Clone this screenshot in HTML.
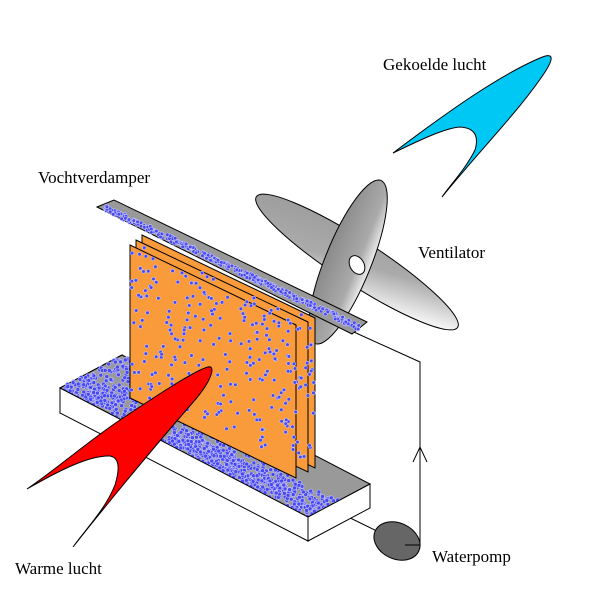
<!DOCTYPE html>
<html><head><meta charset="utf-8"><style>
html,body{margin:0;padding:0;background:#fff;width:600px;height:600px;overflow:hidden}
svg text{font-family:"Liberation Serif",serif;font-size:17px;fill:#000}
</style></head><body>
<svg id="s" width="600" height="600" viewBox="0 0 600 600" xmlns="http://www.w3.org/2000/svg">
<defs>
<linearGradient id="g1" x1="0" y1="0" x2="1" y2="0.6"><stop offset="0" stop-color="#999"/><stop offset="0.6" stop-color="#aaa"/><stop offset="1" stop-color="#f4f4f4"/></linearGradient>
<linearGradient id="g2" x1="0" y1="0" x2="0" y2="1"><stop offset="0" stop-color="#8a8a8a"/><stop offset="0.7" stop-color="#aaa"/><stop offset="1" stop-color="#eee"/></linearGradient>
</defs>
<!-- fan -->
<ellipse cx="357" cy="262" rx="120" ry="22" transform="rotate(33 357 262)" fill="url(#g1)" stroke="#000" stroke-width="1"/>
<ellipse cx="348" cy="262" rx="88" ry="23" transform="rotate(-68 348 262)" fill="url(#g2)" stroke="#000" stroke-width="1"/>
<ellipse cx="357" cy="265" rx="7" ry="10" transform="rotate(-30 357 265)" fill="#fff" stroke="#000"/>
<!-- wires -->
<polyline points="345,328 420,362 420,538 420,545" fill="none" stroke="#000"/>
<polyline points="413,462 420,447 427,462" fill="none" stroke="#000"/>
<line x1="338" y1="512" x2="385" y2="535" stroke="#000"/>
<ellipse cx="397" cy="541" rx="24" ry="18" transform="rotate(25 397 541)" fill="#666" stroke="#000"/>
<line x1="420" y1="545" x2="405" y2="545" stroke="#000"/>
<!-- tray back -->
<polygon points="60,388 122,355 122,380 60,413" fill="#fff" stroke="#000"/>
<polygon points="60,388 122,355 370,484 308,517" fill="#999" stroke="#000"/>
<g id="pile"></g>
<!-- panels -->
<polygon points="142,235 315,318 315,468 142,385" fill="#f99b3a" stroke="#000"/>
<polygon points="136,240 308,322 308,472 136,390" fill="#f99b3a" stroke="#000"/>
<polygon points="130,245 296,325 296,478 130,398" fill="#f99b3a" stroke="#000"/>
<g id="pdots"></g>
<g id="pile2"></g>
<!-- tray front faces -->
<polygon points="60,388 308,517 308,541 60,413" fill="#fff" stroke="#000"/>
<polygon points="308,517 370,484 370,508 308,541" fill="#fff" stroke="#000"/>
<!-- top trough -->
<polygon points="97,207 114,200 367,322 352,334" fill="#999" stroke="#000"/>
<g id="tdots"></g>
<!-- arrows -->
<path d="M27,489 C60,470 90,455 110,456 C122,458 118,475 115,485 C105,510 85,530 73,547 C110,500 160,440 195,400 C212,380 216,365 208,367 C195,370 150,400 120,420 C90,440 55,470 27,489 Z" fill="#f00" stroke="#000"/>
<path d="M393,153 C420,140 445,128 460,127 C478,128 478,140 475,150 C465,170 450,185 442,197 C480,150 520,110 545,72 C556,55 551,53 540,58 C500,75 450,110 393,153 Z" fill="#00c8f5" stroke="#000"/>
<text x="383" y="70">Gekoelde lucht</text>
<text x="38" y="183">Vochtverdamper</text>
<text x="418" y="258">Ventilator</text>
<text x="432" y="562">Waterpomp</text>
<text x="15" y="574">Warme lucht</text>
</svg>
<script>
var s=1234567;function r(){s=(s*16807)%2147483647;return s/2147483647;}
var NS="http://www.w3.org/2000/svg";
function dot(g,x,y,rad,col){var c=document.createElementNS(NS,"circle");c.setAttribute("cx",x.toFixed(1));c.setAttribute("cy",y.toFixed(1));c.setAttribute("r",rad);c.setAttribute("fill",col||"#4848f0");c.setAttribute("stroke","#c8c8ff");c.setAttribute("stroke-width","0.6");g.appendChild(c);}
var pd=document.getElementById("pdots");
for(var i=0;i<260;i++){var u=r(),v=r();var x=130+u*185,y=245+u*(80)+v*150-5;dot(pd,x,y,1.8);}
var td=document.getElementById("tdots");
for(var i=0;i<350;i++){var u=r(),v=r();var x=105+u*255,y=205+u*120+v*6;dot(td,x,y,1.8);}
var p1=document.getElementById("pile");
for(var i=0;i<900;i++){var u=r(),v=r();var x=60+u*248+v*62,y=388+u*129-v*33;if(v<0.5||u<0.25)dot(p1,x,y,2);}
var p2=document.getElementById("pile2");
for(var i=0;i<500;i++){var u=r(),v=r()*0.35;var x=60+u*248+v*62,y=388+u*129-v*33;if(u>0.4||u<0.18)dot(p2,x,y,2);}
</script>
</body></html>
